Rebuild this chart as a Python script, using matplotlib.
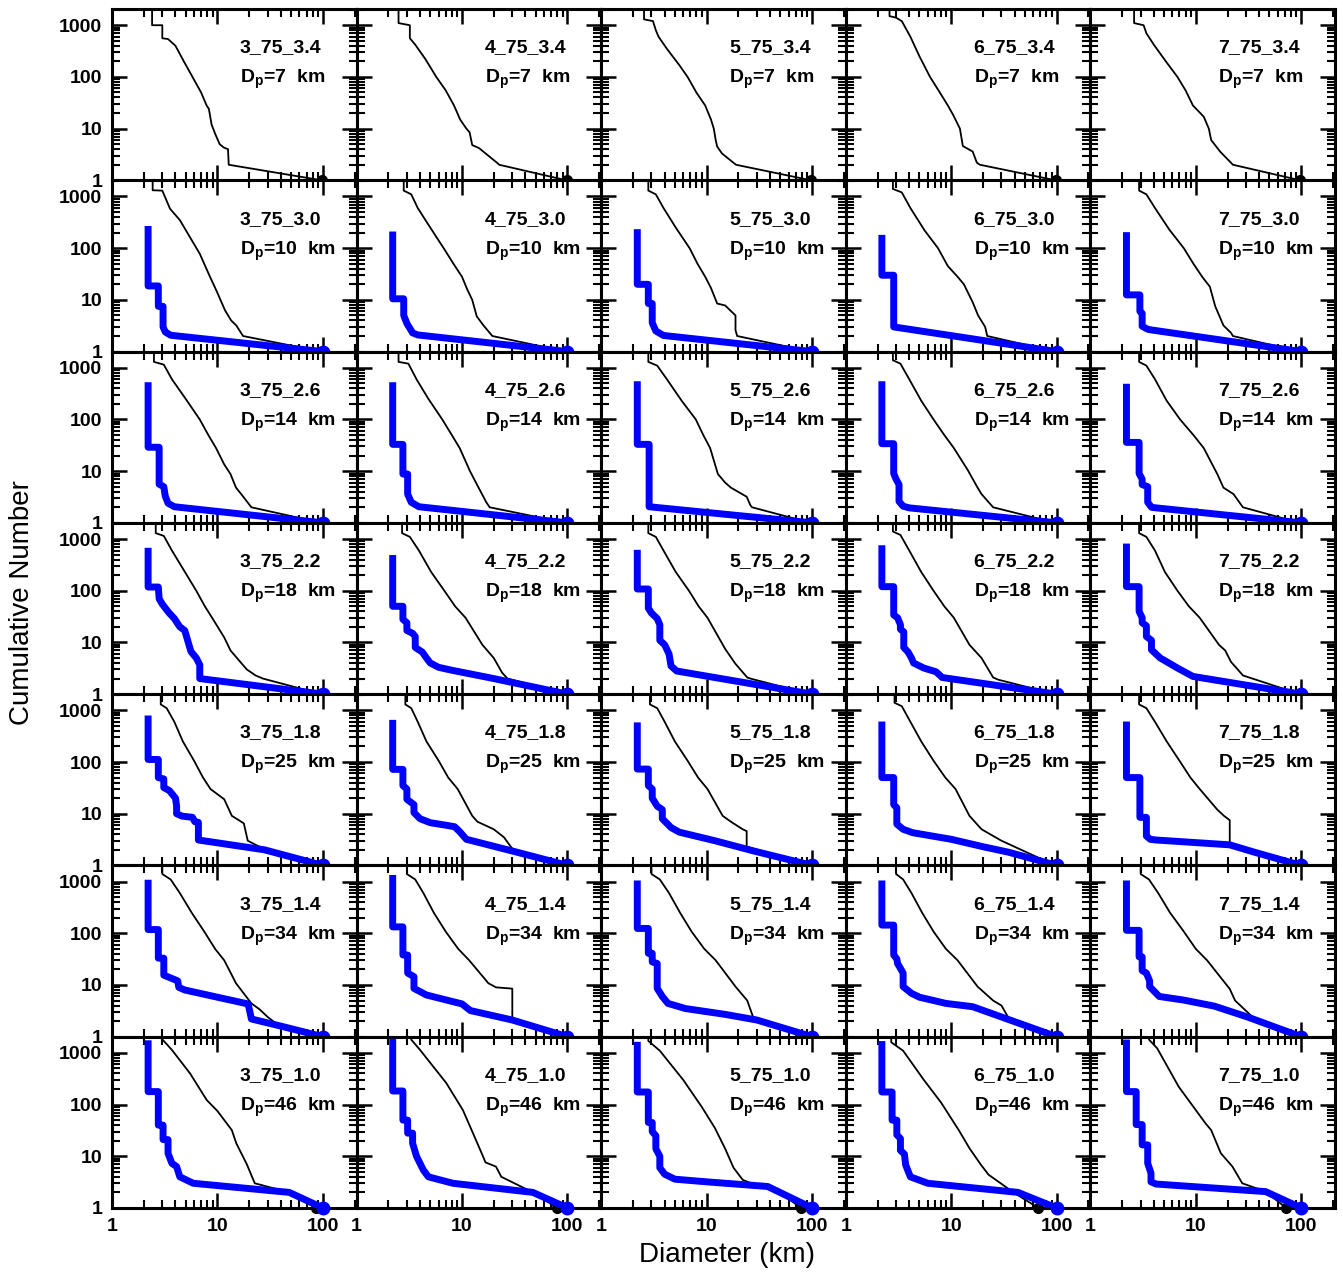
import matplotlib.pyplot as plt
from matplotlib.ticker import FixedLocator, FixedFormatter, LogLocator, NullFormatter

# panel labels
run_ids = ["3_75", "4_75", "5_75", "6_75", "7_75"]
row_params = ["3.4", "3.0", "2.6", "2.2", "1.8", "1.4", "1.0"]
dp_km = [7, 10, 14, 18, 25, 34, 46]

# black curves: (diameter km, cumulative number) knots, one list per column
black_row1 = [
    [(2.4, 2100), (2.4, 1000), (3.0, 1000), (3.0, 560), (3.4, 540), (4.0, 400), (4.8, 200), (5.8, 100), (7.0, 50), (7.9, 28), (8.3, 24), (8.8, 12), (9.5, 8), (10.5, 5), (11.5, 4.3), (12.6, 4.0), (12.8, 2.0), (98, 1)],
    [(2.5, 2100), (2.5, 1100), (3.2, 1000), (3.2, 560), (3.6, 420), (4.5, 220), (5.7, 100), (7.0, 55), (8.4, 28), (9.6, 15), (11.0, 10), (11.8, 8.5), (12.5, 4.8), (14.5, 4.2), (22.0, 2.1), (22.5, 2.0), (98, 1)],
    [(2.55, 2100), (2.55, 1300), (3.1, 1200), (3.3, 800), (3.5, 600), (4.2, 350), (5.5, 170), (6.6, 100), (8.0, 50), (9.7, 28), (11.0, 15), (11.7, 10), (12.2, 6), (12.6, 4.5), (14.0, 3.3), (19.0, 2.0), (98, 1)],
    [(2.6, 2100), (2.6, 1500), (3.0, 1400), (3.4, 1200), (4.1, 600), (5.0, 250), (6.3, 100), (7.8, 50), (9.3, 28), (10.5, 18), (12.1, 10), (12.9, 4.6), (16.0, 3.6), (17.5, 2.2), (18.7, 2.0), (98, 1)],
    [(2.6, 2100), (2.6, 1100), (3.2, 1000), (3.4, 700), (4.0, 420), (5.2, 200), (6.7, 100), (8.0, 55), (9.4, 28), (11.9, 17), (13.3, 10), (14.0, 6), (15.5, 4.6), (17.0, 3.6), (22.5, 2.0), (98, 1)],
]
black_row2 = [
    [(2.43, 2100), (2.43, 1320), (3.0, 1300), (3.55, 580), (4.4, 350), (6.8, 78), (8.5, 28), (9.8, 15), (11.8, 6.3), (13.5, 4.0), (15.1, 3.2), (17.5, 2.0), (97, 1)],
    [(2.8, 2100), (2.8, 1300), (3.3, 1100), (3.8, 600), (5.0, 250), (6.7, 100), (8.3, 50), (10.0, 28), (11.2, 16), (12.5, 10), (13.8, 4.8), (16.0, 3.2), (19.4, 2.0), (97, 1)],
    [(2.8, 2100), (2.8, 1300), (3.3, 1100), (3.9, 600), (5.1, 250), (6.9, 100), (8.2, 50), (9.7, 28), (11.0, 17), (12.6, 8.5), (15.0, 7.8), (18.8, 5.0), (18.8, 2.6), (19.5, 2.0), (97, 1)],
    [(2.8, 2100), (2.8, 1400), (3.4, 1200), (4.1, 600), (5.6, 220), (7.5, 100), (9.3, 45), (11.5, 28), (13.2, 20), (16.0, 9), (18.0, 5), (21.0, 3), (22.0, 2.0), (97, 1)],
    [(2.9, 2100), (2.9, 1300), (3.4, 1100), (4.1, 600), (5.6, 230), (7.7, 100), (9.5, 50), (11.5, 28), (13.6, 18), (15.3, 7.5), (18.3, 3.2), (21.6, 2.3), (22.5, 2.0), (97, 1)],
]
black_row3 = [
    [(2.5, 2100), (2.5, 1300), (3.1, 1150), (3.7, 600), (5.0, 250), (6.8, 100), (8.2, 50), (9.7, 28), (11.6, 13.5), (13.3, 8.8), (15.0, 4.8), (17.0, 3.5), (21.0, 2.0), (97, 1)],
    [(2.5, 2100), (2.5, 1300), (3.1, 1200), (3.7, 600), (4.8, 250), (6.5, 100), (8.0, 50), (9.5, 28), (10.9, 15), (11.9, 10), (14.6, 4.5), (17.0, 2.5), (18.3, 2.0), (97, 1)],
    [(2.8, 2100), (2.8, 1300), (3.4, 1100), (4.2, 600), (5.8, 230), (7.9, 100), (9.3, 50), (10.8, 28), (12.8, 8.8), (15.0, 6), (17.0, 4.8), (24.0, 3.2), (26.0, 2.2), (27.0, 2.0), (97, 1)],
    [(2.8, 2100), (2.8, 1400), (3.3, 1200), (4.0, 600), (5.2, 230), (6.8, 100), (8.6, 50), (10.6, 28), (14.4, 10.4), (17.8, 4.8), (19.4, 3.6), (25.0, 2.0), (97, 1)],
    [(2.9, 2100), (2.9, 1300), (3.4, 1100), (4.1, 600), (5.3, 230), (7.1, 100), (9.5, 50), (11.9, 28), (16.0, 8.8), (18.3, 4.8), (22.8, 3.6), (28.0, 2.0), (97, 1)],
]
black_row4 = [
    [(2.6, 2100), (2.6, 1300), (3.1, 1150), (3.7, 600), (4.8, 250), (6.3, 100), (7.6, 50), (8.9, 30), (11.6, 12.5), (13.3, 7), (16.0, 4.5), (19.0, 3.0), (23.0, 2.3), (27.0, 2.0), (97, 1)],
    [(2.7, 2100), (2.7, 1300), (3.2, 1100), (3.9, 600), (5.1, 230), (6.8, 100), (8.6, 50), (10.8, 30), (15.6, 9), (20.0, 5), (24.0, 2.6), (27.0, 2.0), (97, 1)],
    [(2.8, 2100), (2.8, 1300), (3.3, 1100), (3.9, 600), (5.1, 230), (6.8, 100), (8.4, 50), (10.2, 30), (15.0, 7.5), (18.7, 3.9), (24.3, 2.1), (26.0, 2.0), (97, 1)],
    [(2.8, 2100), (2.8, 1400), (3.3, 1200), (4.0, 600), (5.2, 230), (6.8, 100), (8.6, 50), (10.6, 30), (14.9, 9), (19.4, 5), (25.0, 2.1), (28.0, 1.9), (97, 1)],
    [(2.9, 2100), (2.9, 1300), (3.4, 1100), (4.1, 600), (5.1, 230), (6.7, 100), (8.6, 50), (10.9, 30), (16.6, 9), (19.0, 7), (21.6, 4.2), (25.0, 3.0), (28.0, 2.3), (97, 1)],
]
black_row5 = [
    [(2.9, 2100), (2.9, 1300), (3.3, 1100), (3.9, 600), (4.7, 250), (6.0, 106), (7.3, 50), (8.6, 30), (11.6, 19), (13.7, 9.1), (17.8, 6.5), (19.4, 3.0), (25.0, 2.3), (97, 1)],
    [(2.9, 2100), (2.9, 1300), (3.3, 1100), (3.8, 600), (4.6, 250), (6.0, 106), (7.4, 50), (9.1, 30), (12.5, 9.1), (14.0, 7), (20.0, 5), (25.0, 3.5), (30.0, 2.1), (97, 1)],
    [(2.9, 2100), (2.9, 1300), (3.4, 1100), (4.0, 600), (5.0, 250), (6.6, 106), (8.3, 50), (10.2, 30), (14.2, 9.1), (17.0, 7), (22.0, 5), (24.0, 4.6), (24.0, 2.3), (97, 1)],
    [(2.9, 2100), (2.9, 1400), (3.4, 1200), (4.1, 600), (5.2, 250), (6.8, 106), (8.8, 50), (11.0, 30), (14.9, 9.1), (19.4, 5), (30.0, 3), (55.0, 1.7), (97, 1)],
    [(2.9, 2100), (2.9, 1300), (3.4, 1100), (4.1, 600), (5.3, 250), (7.0, 106), (8.9, 50), (10.9, 30), (16.0, 12), (18.5, 9.1), (21.0, 7.5), (21.0, 2.5), (36.0, 1.8), (97, 1)],
]
black_row6 = [
    [(3.0, 2100), (3.0, 1400), (3.6, 1100), (4.4, 600), (5.7, 250), (7.5, 108), (9.5, 50), (11.6, 30), (15.0, 10.8), (21.0, 4.4), (25.0, 3.4), (30.0, 2.4), (36.0, 1.8), (95, 1)],
    [(3.0, 2100), (3.0, 1400), (3.6, 1100), (4.3, 600), (5.4, 250), (7.0, 108), (9.2, 50), (11.7, 30), (17.8, 10.8), (21.0, 9), (30.0, 8.5), (30.0, 2.1), (95, 1)],
    [(3.0, 2100), (3.0, 1400), (3.6, 1100), (4.4, 600), (5.6, 250), (7.2, 108), (9.5, 50), (12.2, 30), (18.8, 9.3), (24.3, 5), (27.6, 2.4), (95, 1)],
    [(3.0, 2100), (3.0, 1400), (3.5, 1100), (4.2, 600), (5.3, 250), (6.8, 108), (8.9, 50), (11.5, 30), (17.8, 9.3), (25.0, 5), (30.0, 4), (35.0, 2.3), (95, 1)],
    [(3.0, 2100), (3.0, 1400), (3.6, 1100), (4.4, 600), (5.7, 250), (7.7, 108), (10.0, 50), (12.8, 30), (21.0, 8.4), (23.6, 5), (30.8, 3), (36.0, 2.2), (95, 1)],
]
black_row7 = [
    [(2.95, 2100), (2.95, 1900), (3.7, 1140), (5.5, 400), (7.9, 123), (10.0, 75), (13.7, 32), (15.1, 17.8), (19.0, 7), (22.6, 3.0), (48.0, 2.0), (87, 1)],
    [(3.3, 2100), (3.3, 1800), (4.0, 1140), (7.1, 260), (10.2, 78), (12.7, 28), (15.8, 10), (16.7, 7.6), (21.0, 6.3), (23.6, 4.0), (47.0, 2.0), (80, 1)],
    [(2.8, 2100), (2.8, 1700), (3.6, 1100), (6.0, 300), (9.0, 90), (12.0, 35), (15.0, 14), (18.0, 6), (22.0, 3.5), (30.0, 2.7), (50.0, 2.0), (78, 1)],
    [(2.7, 2100), (2.7, 1600), (3.5, 1100), (5.5, 300), (8.0, 110), (11.8, 32), (15.0, 14), (19.0, 7), (22.6, 4.4), (39.0, 2.0), (67, 1)],
    [(3.6, 2100), (3.6, 1800), (4.3, 1230), (6.9, 220), (12.4, 43), (14.0, 32), (17.3, 11.4), (22.3, 6.3), (27.6, 3.0), (46.0, 2.07), (72, 1)],
]

# blue curves (none in the first row)
blue_row1 = [None, None, None, None, None]
blue_row2 = [
    [(2.2, 230), (2.2, 18.6), (2.75, 18.6), (2.75, 7.5), (3.05, 7.5), (3.05, 3.0), (3.2, 2.4), (3.6, 2.07), (100, 1)],
    [(2.2, 180), (2.2, 10.5), (2.8, 10.5), (2.8, 5), (3.0, 3.5), (3.4, 2.3), (3.8, 2.1), (100, 1)],
    [(2.2, 200), (2.2, 20), (2.8, 20), (2.8, 8.5), (3.05, 8.5), (3.05, 3.6), (3.3, 2.5), (3.9, 2.05), (100, 1)],
    [(2.2, 155), (2.2, 30), (2.85, 30), (2.85, 3.0), (100, 1)],
    [(2.2, 175), (2.2, 12.5), (2.95, 12.5), (2.95, 6), (3.1, 5.5), (3.1, 3.1), (3.5, 2.7), (3.9, 2.6), (100, 1)],
]
blue_row3 = [
    [(2.2, 450), (2.2, 29), (2.8, 29), (2.8, 5.6), (3.1, 5.0), (3.2, 3.3), (3.4, 2.4), (3.9, 2.05), (100, 1)],
    [(2.2, 450), (2.2, 33), (2.75, 33), (2.75, 8.8), (3.05, 8.8), (3.05, 3.6), (3.3, 2.5), (3.9, 2.05), (100, 1)],
    [(2.2, 470), (2.2, 33), (2.85, 33), (2.85, 2.05), (100, 1)],
    [(2.2, 470), (2.2, 34), (2.85, 34), (2.85, 9), (3.0, 7), (3.2, 5.5), (3.2, 2.6), (3.5, 2.1), (4.0, 1.95), (100, 1)],
    [(2.2, 420), (2.2, 36), (2.9, 36), (2.9, 9), (3.1, 7), (3.1, 5.5), (3.5, 5), (3.5, 2.5), (3.8, 2.0), (4.2, 1.95), (100, 1)],
]
blue_row4 = [
    [(2.2, 580), (2.2, 118), (2.75, 118), (2.8, 70), (3.0, 55), (3.45, 38), (3.9, 29), (4.4, 20), (4.9, 17), (5.6, 6.7), (6.3, 5), (6.8, 3.7), (6.8, 2.0), (100, 1)],
    [(2.2, 420), (2.2, 50), (2.75, 50), (2.75, 28), (3.0, 24), (3.0, 17), (3.4, 15), (3.6, 13), (3.6, 8), (4.2, 6.5), (4.6, 5), (5.0, 4), (6.0, 3.3), (8.0, 2.9), (20.0, 2.0), (100, 1)],
    [(2.2, 530), (2.2, 108), (2.8, 108), (2.8, 46), (3.0, 37), (3.4, 29), (3.6, 22), (3.6, 11), (4.0, 9), (4.4, 6), (4.6, 3.5), (5.2, 2.8), (100, 1)],
    [(2.2, 650), (2.2, 120), (2.85, 120), (2.85, 34), (3.1, 30), (3.3, 22), (3.3, 18), (3.55, 16), (3.55, 8), (3.9, 6.5), (4.2, 5), (4.4, 4), (5.5, 3.2), (7.2, 2.7), (8.2, 2.1), (100, 1)],
    [(2.2, 700), (2.2, 120), (2.9, 120), (2.9, 40), (3.1, 30), (3.1, 24), (3.4, 21), (3.4, 13), (3.8, 11), (3.8, 7.2), (4.6, 5), (6.7, 3.2), (9.4, 2.2), (100, 1)],
]
blue_row5 = [
    [(2.2, 680), (2.2, 112), (2.75, 112), (2.75, 50), (3.1, 47), (3.1, 32), (3.5, 28), (4.0, 20), (4.1, 14), (4.1, 10), (4.6, 9), (5.8, 8.5), (6.1, 7), (6.6, 6.8), (6.6, 3.1), (28.0, 2.0), (100, 1)],
    [(2.2, 560), (2.2, 72), (2.75, 72), (2.75, 35), (3.0, 30), (3.0, 19), (3.5, 15), (3.5, 10.5), (4.0, 8), (5.0, 6.7), (7.0, 6), (8.5, 5.6), (9.5, 4.5), (11.0, 3.2), (30.0, 1.9), (100, 1)],
    [(2.2, 500), (2.2, 73), (2.8, 73), (2.8, 35), (3.05, 30), (3.05, 20), (3.4, 14), (3.8, 12), (3.8, 8), (4.6, 5.4), (5.5, 4.4), (12.0, 3), (28.0, 1.9), (100, 1)],
    [(2.2, 520), (2.2, 50), (2.85, 50), (2.85, 15), (3.05, 13), (3.05, 6.3), (3.5, 5), (4.3, 4.3), (10.0, 3.2), (20.0, 2.3), (35.0, 1.8), (100, 1)],
    [(2.2, 520), (2.2, 50), (2.95, 50), (2.95, 8.5), (3.4, 8.5), (3.4, 3.7), (3.7, 3.2), (4.2, 3.1), (21.0, 2.5), (36.0, 1.8), (100, 1)],
]
blue_row6 = [
    [(2.2, 930), (2.2, 118), (2.75, 118), (2.75, 33), (3.1, 33), (3.1, 15.5), (3.5, 14), (4.2, 12), (4.3, 9), (4.9, 8), (10.0, 5.8), (19.5, 4.3), (20.0, 3.5), (21.0, 2.2), (40.0, 1.6), (100, 1)],
    [(2.2, 1150), (2.2, 133), (2.75, 133), (2.75, 38), (3.05, 38), (3.05, 17), (3.5, 14.5), (3.5, 8.6), (4.6, 6.4), (10.0, 4.3), (12.0, 3.2), (30.0, 2.1), (100, 1)],
    [(2.2, 900), (2.2, 124), (2.8, 124), (2.8, 41), (3.05, 41), (3.05, 28), (3.4, 26), (3.4, 8.6), (3.8, 6), (4.3, 4.4), (6.3, 3.5), (15.0, 2.7), (30.0, 2.1), (100, 1)],
    [(2.2, 900), (2.2, 144), (2.85, 144), (2.85, 38), (3.05, 32), (3.1, 26), (3.3, 21), (3.5, 17), (3.5, 9.3), (4.2, 6.9), (5.0, 5.8), (6.3, 5.2), (8.9, 4.4), (16.0, 3.8), (100, 1)],
    [(2.2, 900), (2.2, 114), (2.9, 114), (2.9, 35), (3.1, 35), (3.1, 19), (3.4, 17), (3.65, 12), (3.65, 9.3), (4.5, 6), (7.7, 5.1), (15.0, 3.9), (31.0, 2.4), (100, 1)],
]
blue_row7 = [
    [(2.2, 1500), (2.2, 178), (2.75, 178), (2.75, 40), (3.05, 40), (3.05, 21), (3.4, 21), (3.4, 11.4), (3.7, 7.3), (4.1, 6.3), (4.4, 4), (5.9, 3.0), (48.0, 2.0), (100, 1)],
    [(2.2, 1600), (2.2, 183), (2.75, 183), (2.75, 50), (3.05, 50), (3.05, 28), (3.4, 28), (3.4, 17.8), (3.7, 10), (4.3, 5.4), (4.8, 4.0), (8.2, 3.0), (47.0, 2.0), (100, 1)],
    [(2.2, 1400), (2.2, 175), (2.8, 175), (2.8, 45), (3.05, 45), (3.05, 30), (3.3, 25), (3.3, 14), (3.6, 10), (3.6, 6), (4.0, 4.5), (5.0, 3.6), (10.0, 3.2), (38.0, 2.6), (100, 1)],
    [(2.2, 1450), (2.2, 175), (2.75, 175), (2.75, 50), (3.05, 50), (3.05, 26), (3.3, 22), (3.3, 13), (3.6, 11), (3.7, 6.8), (4.1, 4.0), (6.0, 3.0), (43.0, 2.0), (100, 1)],
    [(2.2, 1550), (2.2, 178), (2.72, 178), (2.72, 41), (3.1, 41), (3.1, 16.6), (3.5, 16.6), (3.5, 7.3), (3.76, 4.7), (3.76, 3.2), (4.2, 2.9), (46.0, 2.07), (100, 1)],
]

black_rows = [black_row1, black_row2, black_row3, black_row4, black_row5, black_row6, black_row7]
blue_rows = [blue_row1, blue_row2, blue_row3, blue_row4, blue_row5, blue_row6, blue_row7]

plt.rcParams['font.family'] = ['Liberation Sans', 'DejaVu Sans']
plt.rcParams['mathtext.fontset'] = 'custom'
plt.rcParams['mathtext.rm'] = 'Liberation Sans:bold'
plt.rcParams['mathtext.it'] = 'Liberation Sans:bold'
plt.rcParams['mathtext.bf'] = 'Liberation Sans:bold'

fig, axes = plt.subplots(7, 5, figsize=(13.43, 12.73), dpi=100)
fig.subplots_adjust(left=0.0834, right=0.994, top=0.9929, bottom=0.0511,
                    wspace=0, hspace=0)

for r in range(7):
    for c in range(5):
        ax = axes[r, c]
        ax.set_xscale('log')
        ax.set_yscale('log')

        bd, bn = zip(*black_rows[r][c])
        ax.plot(bd, bn, color='black', lw=1.3, zorder=3)
        ax.plot(bd[-1], bn[-1], 'o', color='black', ms=7, clip_on=False, zorder=4)

        if blue_rows[r][c] is not None:
            ud, un = zip(*blue_rows[r][c])
            ax.plot(ud, un, color='#0000ff', lw=5, zorder=5)
            ax.plot(ud[-1], un[-1], 'o', color='#0000ff', ms=9, clip_on=False, zorder=6)

        ax.set_xlim(1, 209)
        ax.set_ylim(1, 2056)

        ax.text(0.523, 0.747, f"{run_ids[c]}_{row_params[r]}", transform=ax.transAxes,
                fontsize=14, fontweight='bold', va='baseline', ha='left')
        ax.text(0.523, 0.566, rf"D$_{{\mathrm{{p}}}}$={dp_km[r]}  km", transform=ax.transAxes,
                fontsize=14, fontweight='bold', va='baseline', ha='left')

        ax.xaxis.set_major_locator(FixedLocator([1, 10, 100]))
        ax.xaxis.set_minor_locator(LogLocator(base=10, subs=range(2, 10)))
        ax.yaxis.set_major_locator(FixedLocator([1, 10, 100, 1000]))
        ax.yaxis.set_minor_locator(LogLocator(base=10, subs=range(2, 10)))
        ax.xaxis.set_minor_formatter(NullFormatter())
        ax.yaxis.set_minor_formatter(NullFormatter())
        if r == 6:
            ax.xaxis.set_major_formatter(FixedFormatter(["1", "10", "100"]))
        else:
            ax.xaxis.set_major_formatter(NullFormatter())
        if c == 0:
            ax.yaxis.set_major_formatter(FixedFormatter(["1", "10", "100", "1000"]))
        else:
            ax.yaxis.set_major_formatter(NullFormatter())

        ax.tick_params(which='both', direction='in', top=True, right=True,
                       labelsize=14, pad=7)
        ax.tick_params(which='major', length=11, width=1.8)
        ax.tick_params(which='minor', length=6, width=1.5)
        for lab in ax.get_xticklabels() + ax.get_yticklabels():
            lab.set_fontweight('bold')
        for s in ax.spines.values():
            s.set_linewidth(2.2)

fig.text(0.0164, 0.527, "Cumulative Number", rotation=90, fontsize=20,
         ha='center', va='center')
fig.text(0.541, 0.0141, "Diameter (km)", fontsize=20, ha='center', va='center')

fig.savefig("out.png", dpi=100)
